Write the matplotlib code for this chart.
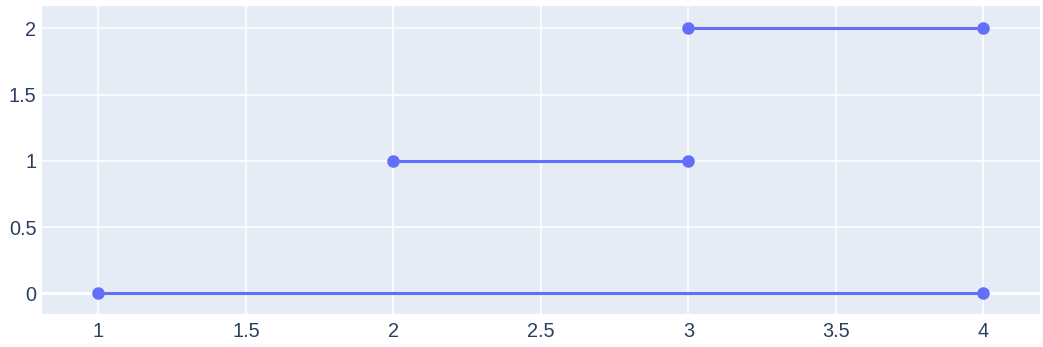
import numpy as np
import matplotlib.pyplot as plt

# segments separated by gaps (nan), like a plotly trace with None values
xs = [1, 4, np.nan, 2, 3, np.nan, 3, 4]
ys = [0, 0, np.nan, 1, 1, np.nan, 2, 2]
xticks = [1, 1.5, 2, 2.5, 3, 3.5, 4]
xticklabels = ['1', '1.5', '2', '2.5', '3', '3.5', '4']
yticks = [0, 0.5, 1, 1.5, 2]
yticklabels = ['0', '0.5', '1', '1.5', '2']

plt.rcParams['font.family'] = ['Liberation Sans', 'DejaVu Sans']

fig = plt.figure(figsize=(10.43, 3.47), dpi=100)
ax = fig.add_axes([42/1043, 1 - 314/347, (1040-42)/1043, (314-6)/347])
ax.set_facecolor('#e5ecf6')

ax.plot(xs, ys, color='#636efa', lw=2.2, marker='o', ms=8, zorder=3)

ax.set_xlim(0.809, 4.192)
ax.set_ylim(-0.156, 2.168)
ax.set_xticks(xticks, xticklabels)
ax.set_yticks(yticks, yticklabels)
ax.grid(color='white', lw=1.1, zorder=0)
ax.set_axisbelow(True)
ax.axhline(0, color='white', lw=2.2, zorder=1)
for s in ax.spines.values():
    s.set_visible(False)
ax.tick_params(length=0, labelsize=14.3, labelcolor='#2a3f5f', pad=6)
ax.tick_params(axis='y', pad=4)

fig.savefig('out.png')
